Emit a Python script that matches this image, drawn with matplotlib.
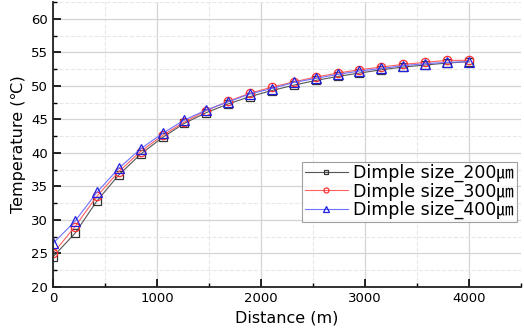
import matplotlib
matplotlib.use('Agg')
import matplotlib.pyplot as plt
from matplotlib.ticker import MultipleLocator

plt.rcParams['font.family'] = ['DejaVu Sans', 'Noto Sans CJK KR']

# distance along the pipe (m)
distance = [0, 211, 421, 632, 842, 1053, 1263, 1474, 1684, 1895,
            2105, 2316, 2526, 2737, 2947, 3158, 3368, 3579, 3789, 4000]

temp_200 = [24.5, 28.0, 32.8, 36.7, 39.8, 42.3, 44.4, 46.0, 47.3, 48.4,
            49.3, 50.1, 50.8, 51.4, 51.9, 52.4, 52.8, 53.1, 53.4, 53.6]
temp_300 = [25.0, 29.0, 33.5, 37.2, 40.2, 42.6, 44.6, 46.3, 47.7, 48.9,
            49.8, 50.6, 51.3, 51.9, 52.4, 52.8, 53.2, 53.5, 53.8, 53.8]
temp_400 = [26.5, 29.8, 34.1, 37.7, 40.6, 42.9, 44.9, 46.4, 47.6, 48.8,
            49.6, 50.5, 51.1, 51.7, 52.2, 52.6, 53.0, 53.3, 53.5, 53.6]

labels = ['Dimple size_200㎛', 'Dimple size_300㎛', 'Dimple size_400㎛']

fig = plt.figure(figsize=(5.24, 3.31), dpi=100)
ax = fig.add_axes([53 / 524, 44 / 331, 468 / 524, 285 / 331])

ax.plot(distance, temp_200, color='#555555', lw=0.8, marker='s', ms=6,
        mfc='none', mec='#333333', mew=0.9, label=labels[0])
ax.plot(distance, temp_300, color='#ff6060', lw=0.8, marker='o', ms=6,
        mfc='none', mec='#ff3030', mew=0.9, label=labels[1])
ax.plot(distance, temp_400, color='#7070ff', lw=0.8, marker='^', ms=7,
        mfc='none', mec='#2020dd', mew=0.9, label=labels[2])

ax.set_xlim(0, 4500)
ax.set_ylim(20, 62.5)
ax.xaxis.set_major_locator(MultipleLocator(1000))
ax.xaxis.set_minor_locator(MultipleLocator(500))
ax.yaxis.set_major_locator(MultipleLocator(5))
ax.yaxis.set_minor_locator(MultipleLocator(2.5))
ax.set_xticks([0, 1000, 2000, 3000, 4000])

ax.grid(which='major', color='#d4d4d4', lw=0.9)
ax.grid(which='minor', color='#e8e8e8', lw=0.8, ls='--')
ax.set_axisbelow(True)

for s in ['top', 'right']:
    ax.spines[s].set_visible(False)
for s in ['left', 'bottom']:
    ax.spines[s].set_linewidth(1.3)
    ax.spines[s].set_color('#222222')

ax.tick_params(which='major', direction='in', length=6, width=1.2, labelsize=9.5)
ax.tick_params(which='minor', direction='in', length=3, width=1.0)

ax.set_xlabel('Distance (m)', fontsize=11.5)
ax.set_ylabel('Temperature (℃)', fontsize=11.5)

leg = ax.legend(loc='upper left', bbox_to_anchor=(0.532, 0.44), fontsize=12.5,
                frameon=True, fancybox=False, edgecolor='#888888',
                markerscale=0.6, handlelength=2.5, handletextpad=0.3,
                borderpad=0.15, labelspacing=0.0, borderaxespad=0)
leg.get_frame().set_linewidth(0.8)

fig.savefig('out.png', dpi=100)
